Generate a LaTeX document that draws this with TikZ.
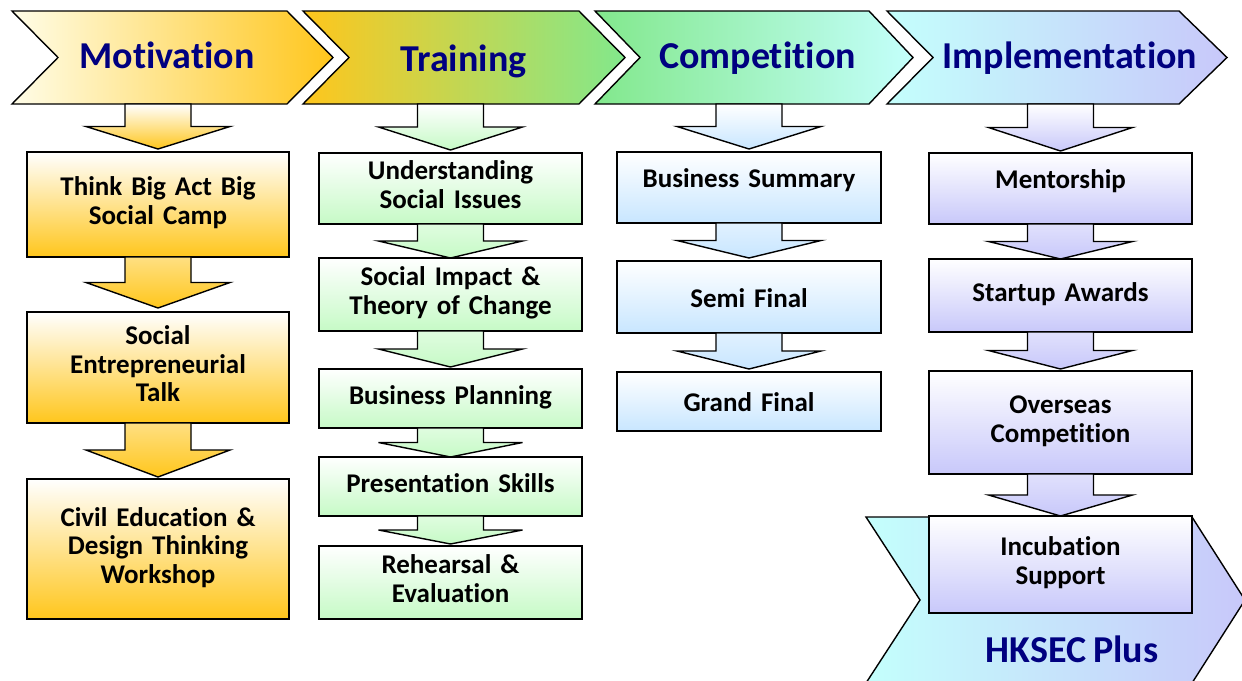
\documentclass[tikz,border=0pt]{standalone}
\usepackage{fontspec}
\setmainfont{Carlito}[Ligatures=NoCommon,Contextuals=NoAlternate,WordSpace=0.8]
\usetikzlibrary{positioning,calc}
\definecolor{gold}{RGB}{255,198,28}
\definecolor{paleyellow}{RGB}{255,253,232}
\definecolor{midgreen}{RGB}{130,232,140}
\definecolor{mint}{RGB}{198,250,198}
\definecolor{skyblue}{RGB}{200,230,255}
\definecolor{aqua}{RGB}{196,255,252}
\definecolor{lavender}{RGB}{200,200,250}
\definecolor{navy}{RGB}{0,0,128}

\begin{document}
\begin{tikzpicture}[x=1pt,y=-1pt,line width=1.4pt,
	stagebox/.style={rectangle,draw,outer sep=0pt,inner sep=0pt,align=center,text width=255pt,
		font=\fontsize{27}{28.5}\selectfont\bfseries,
		execute at begin node=\strut,execute at end node=\strut,
		top color=white,bottom color=#1},
	headtext/.style={anchor=base,text=navy,font=\fontsize{38}{40}\selectfont\bfseries},
	blockarrow/.style={to path={let \p1=(\tikztostart),\p2=(\tikztotarget),
			\p3=($(\tikztostart)!.5!(\tikztotarget)$) in
			(\x1-33pt,\y1) -- (\x1+33pt,\y1) -- (\x1+33pt,\y3) -- (\x1+72pt,\y3)
			-- (\x1,\y2) -- (\x1-72pt,\y3) -- (\x1-33pt,\y3) -- cycle}},
	headarrow/.style={blockarrow,top color=white,bottom color=#1},
	linkarrow/.style={blockarrow,top color=#1!55!white,bottom color=#1}]
	\useasboundingbox (0,0) rectangle (1242,680);

	% stage chevrons
	\path[draw,left color=paleyellow,right color=gold]
		(12,11) -- (287,11) -- (333,57.5) -- (287,104) -- (12,104) -- (58,57.5) -- cycle;
	\path[draw,left color=gold,right color=midgreen]
		(303,11) -- (579,11) -- (625,57.5) -- (579,104) -- (303,104) -- (349,57.5) -- cycle;
	\path[draw,left color=midgreen,right color=aqua]
		(595,11) -- (869,11) -- (913,57.5) -- (869,104) -- (595,104) -- (640,57.5) -- cycle;
	\path[draw,left color=aqua,right color=lavender]
		(887,11) -- (1179,11) -- (1227,57.5) -- (1179,104) -- (887,104) -- (933,57.5) -- cycle;
	\begin{scope}
		\clip (0,0) rectangle (1242,680);
		\path[draw,left color=aqua,right color=lavender]
			(866,517) -- (1192,517) -- (1245,600) -- (1192,683) -- (866,683) -- (920,600) -- cycle;
	\end{scope}

	\node[headtext] (motivation)		at (167,68)		{Motivation};
	\node[headtext] (training)			at (463.5,71.5)	{Training};
	\node[headtext] (competition)		at (757.5,68)	{Competition};
	\node[headtext] (implementation)	at (1070,68)	{Implementation};
	\node[headtext] (plus)				at (1072,662)	{HKSEC Plus};

	\coordinate (motivation-b)		at (158,104);
	\coordinate (training-b)		at (450.5,104);
	\coordinate (competition-b)		at (749,104);
	\coordinate (implementation-b)	at (1060.5,104);

	% motivation
	\node[stagebox=gold,minimum width=262pt,minimum height=105pt,anchor=north] (thinkbig) at (158,152) {Think Big Act Big\\Social Camp};
	\node[stagebox=gold,minimum width=262pt,minimum height=111pt,below=55pt of thinkbig] (talk) {Social\\Entrepreneurial\\Talk};
	\node[stagebox=gold,minimum width=262pt,minimum height=140pt,below=56pt of talk] (workshop) {Civil Education \&\\Design Thinking\\Workshop};

	% training
	\node[stagebox=mint,minimum width=263pt,minimum height=71pt,anchor=north] (issues) at (450.5,153) {Understanding\\Social Issues};
	\node[stagebox=mint,minimum width=263pt,minimum height=73pt,below=34pt of issues] (impact) {Social Impact \&\\Theory of Change};
	\node[stagebox=mint,minimum width=263pt,minimum height=59pt,below=38pt of impact] (planning) {Business Planning};
	\node[stagebox=mint,minimum width=263pt,minimum height=59pt,below=29pt of planning] (skills) {Presentation Skills};
	\node[stagebox=mint,minimum width=263pt,minimum height=73pt,below=30pt of skills] (rehearsal) {Rehearsal \&\\Evaluation};

	% competition
	\node[stagebox=skyblue,minimum width=264pt,minimum height=71pt,text depth=20pt,anchor=north] (summary) at (749,152) {Business Summary};
	\node[stagebox=skyblue,minimum width=264pt,minimum height=72pt,text height=22pt,text depth=2pt,below=38pt of summary] (semifinal) {Semi Final};
	\node[stagebox=skyblue,minimum width=264pt,minimum height=59pt,text height=22pt,text depth=2pt,below=39pt of semifinal] (grandfinal) {Grand Final};

	% implementation
	\node[stagebox=lavender,minimum width=263pt,minimum height=71pt,text depth=20pt,anchor=north] (mentorship) at (1060.5,153) {Mentorship};
	\node[stagebox=lavender,minimum width=263pt,minimum height=73pt,below=35pt of mentorship] (awards) {Startup Awards};
	\node[stagebox=lavender,minimum width=263pt,minimum height=103pt,below=39pt of awards] (overseas) {Overseas\\Competition};
	\node[stagebox=lavender,minimum width=263pt,minimum height=97pt,below=42pt of overseas] (incubation) {Incubation\\Support};

	\path
		(motivation-b)		edge[headarrow=gold]		([yshift=3pt]thinkbig.north)
		(thinkbig.south)	edge[linkarrow=gold]		([yshift=4pt]talk.north)
		(talk.south)		edge[linkarrow=gold]		([yshift=2pt]workshop.north)
		(training-b)		edge[headarrow=mint]		([yshift=3pt]issues.north)
		(issues.south)		edge[linkarrow=mint]		(impact.north)
		(impact.south)		edge[linkarrow=mint]		([yshift=2pt]planning.north)
		(planning.south)	edge[linkarrow=mint]		(skills.north)
		(skills.south)		edge[linkarrow=mint]		([yshift=2pt]rehearsal.north)
		(competition-b)		edge[headarrow=skyblue]		([yshift=3pt]summary.north)
		(summary.south)		edge[linkarrow=skyblue]		([yshift=3pt]semifinal.north)
		(semifinal.south)	edge[linkarrow=skyblue]		([yshift=3pt]grandfinal.north)
		(implementation-b)	edge[headarrow=lavender]	([yshift=2pt]mentorship.north)
		(mentorship.south)	edge[linkarrow=lavender]	(awards.north)
		(awards.south)		edge[linkarrow=lavender]	([yshift=2pt]overseas.north)
		(overseas.south)	edge[linkarrow=lavender]	(incubation.north);
\end{tikzpicture}
\end{document}
